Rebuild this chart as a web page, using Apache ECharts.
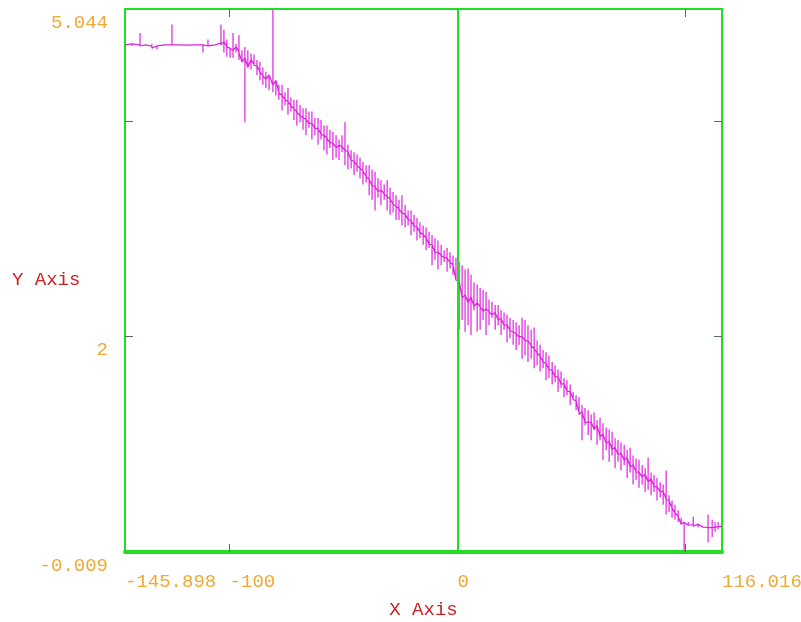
<!DOCTYPE html>
<html>
	<head>
		<meta charset="UTF-8">
		<title>chart</title>
		<script src="https://cdn.jsdelivr.net/npm/echarts/dist/echarts.min.js"></script>
		<style>
			body { margin: 0; background: #fff; }
			#main { width: 801px; height: 622px; }
		</style>
	</head>
	<body>
		<div id="main"></div>
		<script type="text/javascript">
			// each stroke: x position, top of the vertical stroke, bottom of it
			var strokeX = [
				-145.9, -142.8, -139.3, -136.7, -134.1, -131.9, -128.4, -125.3, -121.8, -118.7,
				-115.2, -111.7, -109.5, -106.4, -103.8, -102.5, -101.2, -99.8, -98.5, -97.2,
				-95.9, -94.6, -93.3, -92.0, -90.6, -89.3, -88.0, -86.7, -85.4, -84.1,
				-82.7, -81.0, -79.7, -78.4, -77.0, -75.7, -74.4, -73.1, -71.8, -70.5,
				-69.1, -67.8, -66.5, -65.2, -63.9, -62.6, -61.2, -59.9, -58.6, -57.3,
				-56.0, -54.7, -53.3, -52.0, -50.7, -49.4, -48.1, -46.7, -45.4, -44.1,
				-42.8, -41.5, -40.1, -38.8, -37.5, -36.2, -34.9, -33.6, -32.2, -30.9,
				-29.6, -28.3, -27.0, -25.7, -24.4, -23.0, -21.7, -20.4, -19.1, -17.8,
				-16.5, -15.1, -13.8, -12.5, -11.2, -9.9, -8.6, -7.2, -5.9, -4.6,
				-3.3, -2.0, -0.7, 0.7, 2.0, 3.3, 4.6, 5.9, 7.2, 8.6,
				9.9, 11.2, 12.5, 13.8, 15.1, 16.5, 17.8, 19.1, 20.4, 21.7,
				23.0, 24.4, 25.7, 27.0, 28.3, 29.6, 30.9, 32.3, 33.6, 34.9,
				36.2, 37.5, 38.8, 40.1, 41.5, 42.8, 44.1, 45.4, 46.7, 48.0,
				49.4, 50.7, 52.0, 53.3, 54.6, 55.9, 57.3, 58.6, 59.9, 61.2,
				62.5, 63.8, 65.2, 66.5, 67.8, 69.1, 70.4, 71.7, 73.1, 74.4,
				75.7, 77.0, 78.3, 79.6, 81.0, 82.3, 83.6, 84.9, 86.2, 87.5,
				88.9, 90.2, 91.5, 92.8, 94.1, 95.4, 96.8, 98.1, 99.4, 101.2,
				103.4, 105.5, 107.7, 109.9, 111.7, 113.0, 114.3, 116.0
			];
			var strokeHi = [
				4.71, 4.72, 4.82, 4.71, 4.72, 4.70, 4.71, 4.90, 4.71, 4.72,
				4.71, 4.71, 4.76, 4.71, 4.90, 4.85, 4.76, 4.68, 4.82, 4.72,
				4.80, 4.66, 4.69, 4.66, 4.63, 4.62, 4.57, 4.55, 4.50, 4.46,
				4.43, 5.04, 4.38, 4.34, 4.34, 4.27, 4.31, 4.22, 4.20, 4.20,
				4.15, 4.12, 4.12, 4.09, 4.09, 4.03, 4.03, 4.01, 3.96, 3.96,
				3.92, 3.90, 3.87, 3.83, 3.87, 3.99, 3.78, 3.73, 3.71, 3.69,
				3.66, 3.62, 3.59, 3.59, 3.55, 3.53, 3.47, 3.45, 3.41, 3.45,
				3.38, 3.34, 3.31, 3.27, 3.31, 3.22, 3.17, 3.17, 3.13, 3.10,
				3.06, 3.03, 3.01, 2.97, 2.94, 2.91, 2.89, 2.85, 2.80, 2.82,
				2.78, 2.75, 2.73, 2.69, 2.66, 2.62, 2.63, 2.57, 2.50, 2.48,
				2.45, 2.43, 2.41, 2.34, 2.32, 2.29, 2.29, 2.24, 2.22, 2.20,
				2.17, 2.15, 2.13, 2.10, 2.17, 2.15, 2.10, 2.06, 2.08, 1.96,
				1.92, 1.87, 1.85, 1.82, 1.76, 1.73, 1.69, 1.67, 1.61, 1.59,
				1.55, 1.48, 1.45, 1.43, 1.36, 1.33, 1.31, 1.27, 1.29, 1.22,
				1.24, 1.19, 1.15, 1.13, 1.11, 1.05, 1.03, 1.01, 0.99, 0.94,
				0.96, 0.89, 0.86, 0.85, 0.80, 0.77, 0.87, 0.73, 0.71, 0.68,
				0.64, 0.62, 0.75, 0.52, 0.47, 0.43, 0.38, 0.31, 0.27, 0.27,
				0.32, 0.25, 0.24, 0.34, 0.29, 0.27, 0.27, 0.23
			];
			var strokeLo = [
				4.71, 4.70, 4.70, 4.71, 4.68, 4.67, 4.71, 4.71, 4.70, 4.69,
				4.71, 4.64, 4.70, 4.71, 4.71, 4.64, 4.60, 4.59, 4.59, 4.64,
				4.57, 4.55, 3.99, 4.50, 4.48, 4.52, 4.43, 4.38, 4.34, 4.31,
				4.29, 4.27, 4.24, 4.20, 4.10, 4.15, 4.06, 4.09, 4.01, 3.96,
				3.99, 3.92, 3.87, 3.94, 3.83, 3.87, 3.78, 3.83, 3.73, 3.69,
				3.75, 3.64, 3.66, 3.64, 3.71, 3.59, 3.55, 3.56, 3.50, 3.53,
				3.47, 3.41, 3.43, 3.31, 3.27, 3.17, 3.29, 3.22, 3.27, 3.17,
				3.13, 3.15, 3.08, 3.08, 3.03, 3.01, 3.03, 2.94, 2.97, 2.89,
				2.91, 2.85, 2.80, 2.82, 2.66, 2.71, 2.62, 2.66, 2.69, 2.60,
				2.63, 2.57, 2.52, 2.06, 2.15, 2.04, 2.10, 2.01, 2.24, 2.04,
				2.06, 2.15, 2.01, 2.10, 2.17, 2.06, 2.10, 2.01, 2.06, 1.94,
				1.98, 1.92, 1.87, 1.92, 1.79, 1.82, 1.76, 1.79, 1.70, 1.73,
				1.67, 1.70, 1.59, 1.61, 1.55, 1.57, 1.48, 1.52, 1.43, 1.45,
				1.36, 1.41, 1.31, 1.27, 1.03, 1.17, 1.08, 1.03, 1.13, 0.99,
				1.03, 0.85, 0.94, 0.83, 0.89, 0.77, 0.83, 0.75, 0.80, 0.68,
				0.73, 0.62, 0.66, 0.59, 0.62, 0.55, 0.57, 0.52, 0.55, 0.47,
				0.50, 0.43, 0.34, 0.36, 0.31, 0.29, 0.27, 0.25, 0.00, 0.24,
				0.23, 0.22, 0.22, 0.08, 0.13, 0.18, 0.20, 0.23
			];

			var xMin = -145.898, xMax = 116.016;
			var yMin = -0.009, yMax = 5.044;
			var xTickValues = [-100, 0, 100];
			var xLabelValues = [-145.898, -100, 0, 116.016];
			var xLabelTexts = ['-145.898', '-100', '0', '116.016'];
			var yTickValues = [2, 4];
			var yLabelValues = [-0.009, 2, 5.044];
			var yLabelTexts = ['-0.009', '2', '5.044'];

			var green = '#22dd22';
			var orange = '#eeaa33';
			var red = '#cc2222';
			var font = 'Liberation Mono';

			// the line runs along the middle of the neighbouring strokes and
			// each stroke is drawn up and down from it
			var n = strokeX.length;
			var mids = [];
			for (var i = 0; i < n; i++) mids.push((strokeHi[i] + strokeLo[i]) / 2);
			var points = [];
			for (var i = 0; i < n; i++) {
				var m = (mids[Math.max(i - 1, 0)] + mids[Math.min(i + 1, n - 1)]) / 2;
				var base = Math.min(strokeHi[i], Math.max(strokeLo[i], m));
				points.push([strokeX[i], base]);
				points.push([strokeX[i], strokeHi[i]]);
				points.push([strokeX[i], strokeLo[i]]);
				points.push([strokeX[i], base]);
			}

			function pick(vals, texts) {
				return function(v) {
					for (var k = 0; k < vals.length; k++) {
						if (Math.abs(vals[k] - v) < 1e-6) return texts[k];
					}
					return '';
				};
			}

			var myChart = echarts.init(document.getElementById('main'));
			var option = {
				animation: false,
				backgroundColor: '#ffffff',
				grid: { left: 125, right: 79, top: 9, bottom: 70, containLabel: false, outerBoundsMode: 'none' },
				graphic: [{
					type: 'text',
					left: 12,
					top: 270,
					style: { text: 'Y Axis', fill: red, font: '19px "Liberation Mono"' }
				}],
				xAxis: [{
					type: 'value',
					position: 'bottom',
					min: xMin,
					max: xMax,
					name: 'X Axis',
					nameLocation: 'middle',
					nameGap: 48,
					nameTextStyle: { color: red, fontFamily: font, fontSize: 19 },
					axisLine: { show: true, onZero: false, lineStyle: { color: green, width: 4 } },
					axisTick: { show: true, inside: true, length: 8, customValues: xTickValues, lineStyle: { color: '#5a6a5a' } },
					axisLabel: {
						customValues: xLabelValues,
						formatter: pick(xLabelValues, xLabelTexts),
						color: orange,
						fontFamily: font,
						fontSize: 19,
						align: 'left',
						margin: 20
					},
					splitLine: { show: false }
				}, {
					type: 'value',
					position: 'top',
					min: xMin,
					max: xMax,
					axisLine: { show: true, onZero: false, lineStyle: { color: green, width: 2 } },
					axisTick: { show: true, inside: true, length: 8, customValues: xTickValues, lineStyle: { color: '#5a6a5a' } },
					axisLabel: { show: false },
					splitLine: { show: false }
				}],
				yAxis: [{
					type: 'value',
					position: 'left',
					min: yMin,
					max: yMax,
					axisLine: { show: true, onZero: false, lineStyle: { color: green, width: 2 } },
					axisTick: { show: true, inside: true, length: 8, customValues: yTickValues, lineStyle: { color: '#5a6a5a' } },
					axisLabel: {
						customValues: yLabelValues,
						formatter: pick(yLabelValues, yLabelTexts),
						color: orange,
						fontFamily: font,
						fontSize: 19,
						verticalAlign: 'top',
						padding: [4, 0, 0, 0],
						margin: 17
					},
					splitLine: { show: false }
				}, {
					type: 'value',
					position: 'right',
					min: yMin,
					max: yMax,
					axisLine: { show: true, onZero: false, lineStyle: { color: green, width: 2 } },
					axisTick: { show: true, inside: true, length: 8, customValues: yTickValues, lineStyle: { color: '#5a6a5a' } },
					axisLabel: { show: false },
					splitLine: { show: false }
				}],
				series: [{
					type: 'line',
					xAxisIndex: 0,
					yAxisIndex: 0,
					data: points,
					showSymbol: false,
					lineStyle: { color: '#dd22dd', width: 1.2 },
					markLine: {
						silent: true,
						symbol: 'none',
						label: { show: false },
						lineStyle: { color: green, width: 2, type: 'solid' },
						data: [{ xAxis: 0 }]
					},
					z: 3
				}]
			};
			myChart.setOption(option);
		</script>
	</body>
</html>
